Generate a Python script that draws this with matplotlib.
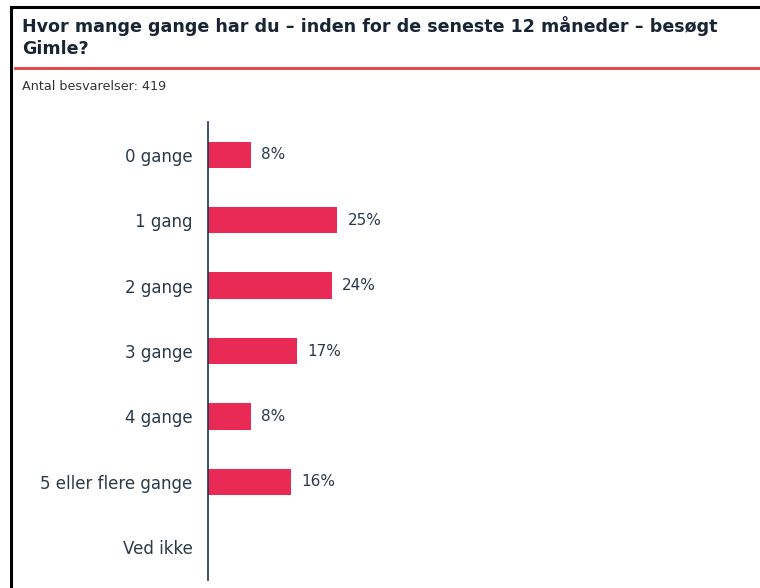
import matplotlib
matplotlib.use("Agg")
import matplotlib.pyplot as plt
from matplotlib.lines import Line2D

# data
categories = ["0 gange", "1 gang", "2 gange", "3 gange", "4 gange",
              "5 eller flere gange", "Ved ikke"]
shares = [8.3, 24.9, 23.9, 17.2, 8.3, 16.0, 0.0]
labels = ["8%", "25%", "24%", "17%", "8%", "16%", ""]

title = "Hvor mange gange har du \u2013 inden for de seneste 12 m\u00e5neder \u2013 bes\u00f8gt\nGimle?"
subtitle = "Antal besvarelser: 419"

BAR = "#e82a54"
TEXT = "#2b3a4a"
AXIS = "#1e3350"

plt.rcParams["font.family"] = ["DejaVu Sans"]

W, H = 760, 588
fig = plt.figure(figsize=(W / 100, H / 100), dpi=100)
fig.patch.set_facecolor("white")

# frame lines (top and left) and red rule under the title
fig.add_artist(Line2D([11 / W, 11 / W], [0, 1 - 7 / H], color="black", lw=2.2))
fig.add_artist(Line2D([11 / W, 1], [1 - 7 / H, 1 - 7 / H], color="black", lw=2.2))
fig.add_artist(Line2D([15 / W, 1], [1 - 68 / H, 1 - 68 / H], color="#e03c3c", lw=2))

fig.text(22 / W, 1 - 16 / H, title, ha="left", va="top", fontsize=12.6,
         fontweight="bold", color="#1a2533", linespacing=1.3)
fig.text(22 / W, 1 - 86 / H, subtitle, ha="left", va="center", fontsize=9.2,
         color="#333333")

ax = fig.add_axes([208 / W, 1 - 580 / H, (W - 208) / W, 458 / H])
y = list(range(len(categories)))
ax.barh(y, shares, height=0.4, color=BAR)
for yi, v, lab in zip(y, shares, labels):
    if lab:
        ax.annotate(lab, (v, yi), xytext=(7.5, 0), textcoords="offset points",
                    ha="left", va="center", fontsize=11, color=TEXT)

ax.set_xlim(0, (W - 208) / 5.18)
ax.set_ylim(len(categories) - 0.5, -0.5)
ax.set_yticks(y)
ax.set_yticklabels(categories, fontsize=12, color=TEXT)
ax.tick_params(axis="y", length=0, pad=11)
ax.set_xticks([])
for s in ["top", "right", "bottom"]:
    ax.spines[s].set_visible(False)
ax.spines["left"].set_color(AXIS)
ax.spines["left"].set_linewidth(1.2)
ax.set_facecolor("none")

fig.savefig("out.png", dpi=100)
